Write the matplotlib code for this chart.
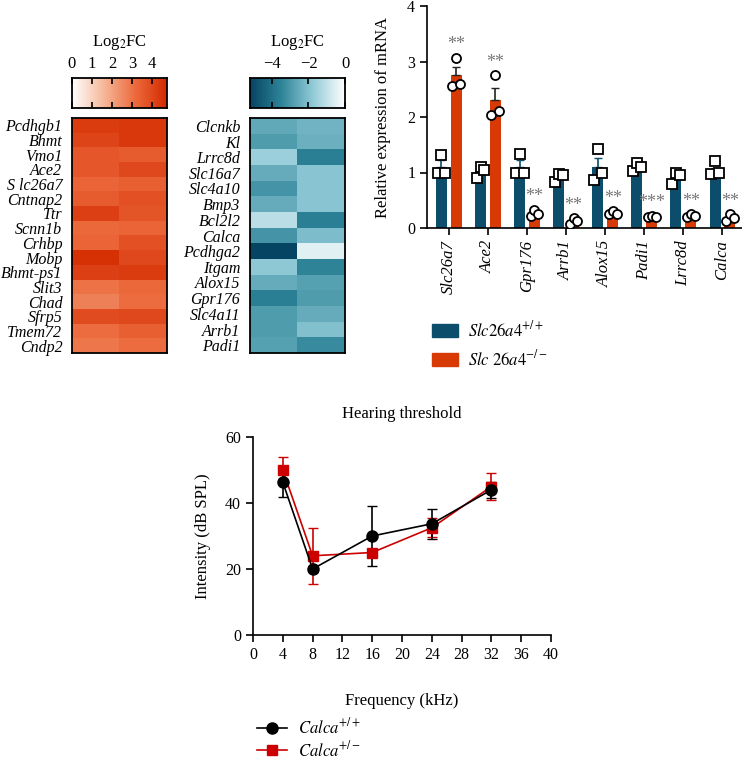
import numpy as np
import matplotlib
matplotlib.use("Agg")
import matplotlib.pyplot as plt
from matplotlib.colors import LinearSegmentedColormap
from matplotlib.patches import Patch
from matplotlib.lines import Line2D

plt.rcParams['font.family'] = ['Liberation Serif', 'DejaVu Serif']
plt.rcParams['mathtext.fontset'] = 'stix'

# ---- heatmap data (log2FC, two columns each) ----
up_genes = ["Pcdhgb1", "Bhmt", "Vmo1", "Ace2", "S lc26a7", "Cntnap2", "Ttr", "Scnn1b",
            "Crhbp", "Mobp", "Bhmt-ps1", "Slit3", "Chad", "Sfrp5", "Tmem72", "Cndp2"]
up_col1 = [4.3, 4.1, 3.6, 3.6, 3.3, 3.5, 4.2, 3.2, 3.3, 4.6, 4.2, 3.0, 2.7, 3.9, 3.1, 2.9]
up_col2 = [4.4, 4.4, 3.5, 4.0, 3.4, 3.8, 3.7, 3.3, 3.8, 4.0, 4.3, 3.2, 3.1, 4.0, 3.4, 3.1]

down_genes = ["Clcnkb", "Kl", "Lrrc8d", "Slc16a7", "Slc4a10", "Bmp3", "Bcl2l2", "Calca",
              "Pcdhga2", "Itgam", "Alox15", "Gpr176", "Slc4a11", "Arrb1", "Padi1"]
down_col1 = [-2.6, -2.9, -1.6, -2.5, -3.1, -2.5, -1.1, -3.1, -5.2, -1.8, -2.5, -3.6, -2.9, -2.9, -2.8]
down_col2 = [-2.3, -2.4, -3.6, -1.9, -1.9, -1.9, -3.6, -2.1, -0.5, -3.5, -2.8, -2.9, -2.5, -2.0, -3.3]

# ---- qPCR bar data ----
qpcr_genes = ["Slc26a7", "Ace2", "Gpr176", "Arrb1", "Alox15", "Padi1", "Lrrc8d", "Calca"]
wt_mean = [1.1, 1.03, 1.1, 0.93, 1.1, 1.05, 0.9, 1.0]
wt_sem = [0.12, 0.06, 0.12, 0.05, 0.16, 0.05, 0.06, 0.08]
wt_pts = [[1.0, 1.32, 1.0], [0.9, 1.1, 1.05], [1.0, 1.33, 1.0], [0.82, 0.98, 0.95],
          [0.87, 1.42, 1.0], [1.02, 1.18, 1.1], [0.8, 1.0, 0.95], [0.98, 1.2, 1.0]]
ko_mean = [2.75, 2.3, 0.24, 0.12, 0.26, 0.2, 0.22, 0.17]
ko_sem = [0.15, 0.22, 0.03, 0.03, 0.02, 0.01, 0.02, 0.04]
ko_pts = [[2.55, 3.07, 2.6], [2.03, 2.75, 2.1], [0.22, 0.33, 0.25], [0.08, 0.18, 0.12],
          [0.25, 0.3, 0.25], [0.2, 0.22, 0.2], [0.2, 0.25, 0.22], [0.12, 0.25, 0.18]]
stars = ["**", "**", "**", "**", "**", "***", "**", "**"]

# ---- hearing threshold data ----
freq = [4, 8, 16, 24, 32]
wt_thr = [46.3, 20.0, 30.0, 33.7, 44.0]
wt_thr_err = [4.5, 0.8, 9.0, 4.6, 2.4]
het_thr = [50.0, 24.0, 25.0, 32.5, 45.0]
het_thr_err = [4.0, 8.4, 1.0, 2.9, 4.0]

W, H = 742, 761
fig = plt.figure(figsize=(W / 100, H / 100), dpi=100)


def px_axes(x0, y0, x1, y1):
    return fig.add_axes([x0 / W, 1 - y1 / H, (x1 - x0) / W, (y1 - y0) / H])


reds = LinearSegmentedColormap.from_list("reds", ["#ffffff", "#f6b89a", "#ec6a3c", "#d42a00"])
teals = LinearSegmentedColormap.from_list("teals", ["#054463", "#2f8599", "#93cbd8", "#ffffff"])


def heatmap(x0, x1, genes, c1, c2, cmap, vmin, vmax, ticks):
    ax = px_axes(x0, 118, x1, 353)
    data = np.column_stack([c1, c2])
    ax.imshow(data, cmap=cmap, vmin=vmin, vmax=vmax, aspect='auto', interpolation='nearest')
    ax.set_yticks(range(len(genes)))
    ax.set_yticklabels(genes, fontstyle='italic', fontsize=11.5)
    ax.set_xticks([])
    ax.tick_params(axis='y', length=0, pad=7)
    for s in ax.spines.values():
        s.set_linewidth(1.3)
    cax = px_axes(x0, 78, x1, 108)
    grad = np.linspace(vmin, vmax, 256).reshape(1, -1)
    cax.imshow(grad, cmap=cmap, vmin=vmin, vmax=vmax, aspect='auto',
               extent=[vmin, vmax, 0, 1])
    cax.set_yticks([])
    cax.set_xticks(ticks)
    cax.xaxis.tick_top()
    cax.tick_params(axis='x', direction='in', length=4, width=1.2, labelsize=12,
                    top=True, bottom=True, pad=4)
    for s in cax.spines.values():
        s.set_linewidth(1.3)
    cax.text((vmin + vmax) / 2, 2.2, r"Log$_2$FC", ha='center', va='center', fontsize=12,
             transform=cax.transData)


heatmap(72, 167, up_genes, up_col1, up_col2, reds, 0, 4.75, [0, 1, 2, 3, 4])
heatmap(250, 345, down_genes, down_col1, down_col2, teals, -5.2, 0, [-4, -2, 0])

# ---- bar chart ----
blue = "#0b4d6b"
red = "#d83a06"
ax = px_axes(427, 6, 742, 228)
x = np.arange(len(qpcr_genes))
bw = 0.28
off = 0.19
ax.bar(x - off, wt_mean, width=bw, color=blue, zorder=2)
ax.bar(x + off, ko_mean, width=bw, color=red, zorder=2)
ax.errorbar(x - off, wt_mean, yerr=[np.zeros(8), wt_sem], fmt='none', ecolor=blue,
            elinewidth=1.2, capsize=3, zorder=2)
ax.errorbar(x + off, ko_mean, yerr=[np.zeros(8), ko_sem], fmt='none', ecolor='#222222',
            elinewidth=1.2, capsize=3, zorder=2)
jit = [-0.1, 0.0, 0.1]
for i in range(len(qpcr_genes)):
    for j in range(3):
        ax.plot(x[i] - off + jit[j], wt_pts[i][j], 's', ms=6.5, mfc='white',
                mec='black', mew=1.3, zorder=3)
        ax.plot(x[i] + off + jit[j], ko_pts[i][j], 'o', ms=6.5, mfc='white',
                mec='black', mew=1.3, zorder=3)
    top = max(ko_pts[i] + [ko_mean[i] + ko_sem[i]])
    ax.text(x[i] + off, top + 0.08, stars[i], ha='center', va='bottom', fontsize=13,
            color='#777777')
ax.set_xlim(-0.56, 7.5)
ax.set_ylim(0, 4)
ax.set_yticks([0, 1, 2, 3, 4])
ax.set_xticks(x)
ax.set_xticklabels(qpcr_genes, rotation=90, fontstyle='italic', fontsize=12)
ax.tick_params(labelsize=11.5, width=1.2, length=5)
ax.tick_params(axis='x', labelsize=12)
ax.set_ylabel("Relative expression of mRNA", fontsize=12, labelpad=12)
ax.spines['top'].set_visible(False)
ax.spines['right'].set_visible(False)
for s in ['left', 'bottom']:
    ax.spines[s].set_linewidth(1.2)

fig.legend(handles=[Patch(color=blue, label=r"$\mathit{Slc26a4}^{+/+}$"),
                    Patch(color=red, label=r"$\mathit{Slc\ 26a4}^{-/-}$")],
           loc='upper left', bbox_to_anchor=(417 / W, 1 - 305 / H), frameon=False,
           fontsize=12, handlelength=1.55, handleheight=0.8, handletextpad=0.6,
           labelspacing=0.55)

# ---- hearing threshold ----
ax2 = px_axes(253, 437, 551, 635)
ax2.errorbar(freq, het_thr, yerr=het_thr_err, color='#cc0000', marker='s', ms=7.5,
             lw=1.2, capsize=3.5, elinewidth=1.2)
ax2.errorbar(freq, wt_thr, yerr=wt_thr_err, color='black', marker='o', ms=8,
             lw=1.2, capsize=3.5, elinewidth=1.2)
ax2.set_xlim(0, 40)
ax2.set_ylim(0, 60)
ax2.set_xticks(range(0, 41, 4))
ax2.set_yticks([0, 20, 40, 60])
ax2.tick_params(labelsize=11.5, width=1.2, length=5)
ax2.spines['top'].set_visible(False)
ax2.spines['right'].set_visible(False)
for s in ['left', 'bottom']:
    ax2.spines[s].set_linewidth(1.2)
ax2.set_title("Hearing threshold", fontsize=12, pad=14)
ax2.set_ylabel("Intensity (dB SPL)", fontsize=12, labelpad=10)
ax2.set_xlabel("Frequency (kHz)", fontsize=12, labelpad=22)

fig.legend(handles=[Line2D([], [], color='black', marker='o', ms=8, lw=1.2,
                           label=r"$\mathit{Calca}^{+/+}$"),
                    Line2D([], [], color='#cc0000', marker='s', ms=7.5, lw=1.2,
                           label=r"$\mathit{Calca}^{+/-}$")],
           loc='upper left', bbox_to_anchor=(245 / W, 1 - 706 / H), frameon=False,
           fontsize=12, handlelength=1.8, handletextpad=0.7, labelspacing=0.15,
           borderpad=0.2)

fig.savefig("out.png", dpi=100)
